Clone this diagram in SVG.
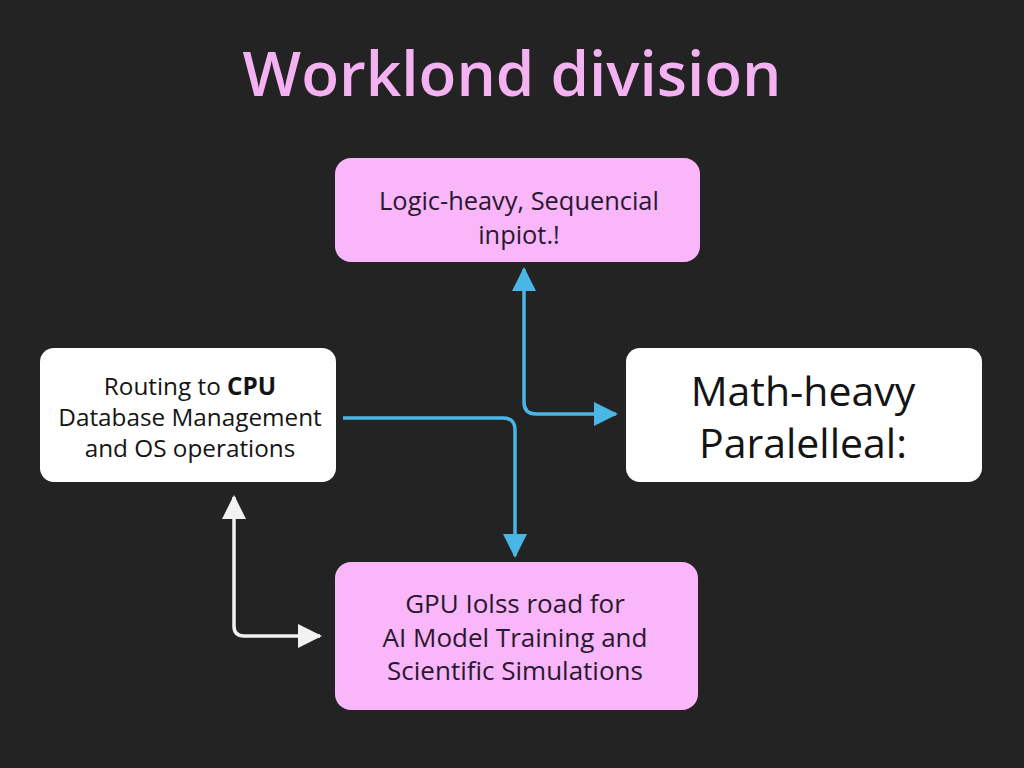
<svg xmlns="http://www.w3.org/2000/svg" width="1024" height="768" viewBox="0 0 1024 768">
<defs>
<style>
.t{font-family:"Open Sans","Noto Sans","DejaVu Sans",sans-serif;text-anchor:middle}
.pink{fill:#f9b6f9}
.white{fill:#ffffff}
.dk{fill:#2a1830}
.bk{fill:#141414}
.blue{fill:none;stroke:#4ab6e6;stroke-width:3.5;stroke-linejoin:round}
.wl{fill:none;stroke:#f2f2f2;stroke-width:3.5;stroke-linejoin:round}
</style>
<marker id="ab" viewBox="0 0 24 24" refX="22" refY="12" markerWidth="24" markerHeight="24" markerUnits="userSpaceOnUse" orient="auto-start-reverse"><path d="M0,0 L24,12 L0,24 Z" fill="#4ab6e6"/></marker>
<marker id="aw" viewBox="0 0 24 24" refX="22" refY="12" markerWidth="24" markerHeight="24" markerUnits="userSpaceOnUse" orient="auto-start-reverse"><path d="M0,0 L24,12 L0,24 Z" fill="#f2f2f2"/></marker>
</defs>
<rect width="1024" height="768" fill="#232323"/>
<text class="t" x="512" y="96" font-size="62" font-weight="600" fill="#f4b2f2">Worklond division</text>
<g id="connectors">
<path class="blue" d="M343,418 H503 Q515,418 515,430 V556" marker-end="url(#ab)"/>
<path class="blue" d="M524,269 V402 Q524,414 536,414 H616" marker-start="url(#ab)" marker-end="url(#ab)"/>
<path class="wl" d="M234,497 V626 Q234,636 244,636 H320" marker-start="url(#aw)" marker-end="url(#aw)"/>
</g>
<g id="node-top">
<rect class="pink" x="335" y="158" width="365" height="104" rx="16"/>
<text class="t dk" x="519" y="210" font-size="25.4">Logic-heavy, Sequencial</text>
<text class="t dk" x="519" y="244" font-size="25.4">inpiot.!</text>
</g>
<g id="node-left">
<rect class="white" x="40" y="348" width="296" height="134" rx="14"/>
<text class="t bk" x="190" y="395" font-size="24.3">Routing to <tspan font-weight="700">CPU</tspan></text>
<text class="t bk" x="190" y="426" font-size="24.3">Database Management</text>
<text class="t bk" x="190" y="457" font-size="24.3">and OS operations</text>
</g>
<g id="node-right">
<rect class="white" x="626" y="348" width="356" height="134" rx="14"/>
<text class="t bk" x="803" y="406" font-size="41">Math-heavy</text>
<text class="t bk" x="803" y="458" font-size="41">Paralelleal:</text>
</g>
<g id="node-bottom">
<rect class="pink" x="335" y="562" width="363" height="148" rx="16"/>
<text class="t dk" x="515" y="613" font-size="26">GPU Iolss road for</text>
<text class="t dk" x="515" y="647" font-size="26">AI Model Training and</text>
<text class="t dk" x="515" y="680" font-size="26">Scientific Simulations</text>
</g>
</svg>
